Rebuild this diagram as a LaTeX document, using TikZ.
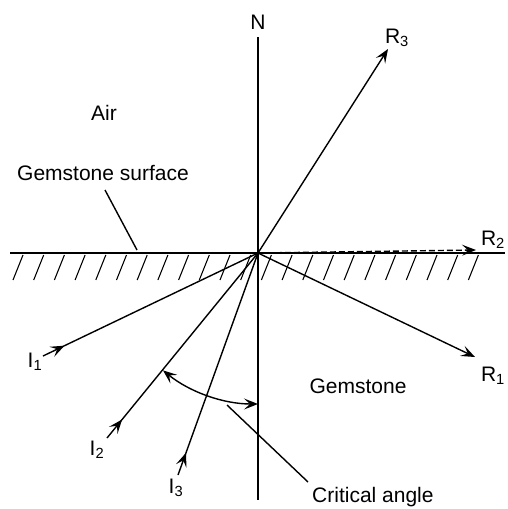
\documentclass[tikz,border=0pt]{standalone}
\usepackage{fontspec}
\setmainfont{Liberation Sans}
\usetikzlibrary{arrows.meta, decorations.markings, calc}

\begin{document}
\begin{tikzpicture}[
  x=1pt, y=-1pt,
  label/.style={font=\fontsize{21}{24}\selectfont, inner sep=0pt},
  ray/.style={line width=1.4pt},
  tip/.tip={Stealth[length=14pt, width=11pt, inset=6pt]},
  arrow/.style={ray, -tip},
  midarrow/.style={ray, decoration={markings, mark=at position 0.1 with {\arrow{tip}}}, postaction={decorate}},
  hatch/.style={line width=1.1pt}
]
  \useasboundingbox (0,0) rectangle (507,509);

  % points of the rays
  \coordinate (O) at (258,253);
  \coordinate (ntop) at (258,37);
  \coordinate (nbot) at (258,500);
  \coordinate (sleft) at (10,253);
  \coordinate (sright) at (505,253);
  \coordinate (r3) at (388,49);
  \coordinate (r2) at (476,250);
  \coordinate (r1) at (475,357);
  \coordinate (i1) at (43,356);
  \coordinate (i2) at (107,438);
  \coordinate (i3) at (178,475);

  % labels
  \node[label] (nlab) at (258,22) {N};
  \node[label] (r3lab) at (397,38) {R\textsubscript{3}};
  \node[label] (r2lab) at (493,240) {R\textsubscript{2}};
  \node[label] (r1lab) at (493,376) {R\textsubscript{1}};
  \node[label] (i1lab) at (35,362) {I\textsubscript{1}};
  \node[label] (i2lab) at (97,450) {I\textsubscript{2}};
  \node[label] (i3lab) at (176,488) {I\textsubscript{3}};
  \node[label] (air) at (104,113) {Air};
  \node[label] (surf) at (103,173) {Gemstone surface};
  \node[label] (gem) at (358,386) {Gemstone};
  \node[label, anchor=west] (crit) at (312,497) {Critical angle};

  % normal and surface
  \draw[ray] (ntop) -- (nbot);
  \draw[ray] (sleft) -- (sright);
  \foreach \k in {0,...,22}
    \draw[hatch] (23+20.7*\k,255) -- ++(-10,25);

  % rays
  \draw[midarrow] (i1) -- (O);
  \draw[midarrow] (i2) -- (O);
  \draw[midarrow] (i3) -- (O);
  \draw[arrow] (O) -- (r3);
  \draw[arrow] (O) -- (r1);
  \draw[arrow, dash pattern=on 6pt off 3pt] (O) -- (r2);

  % pointers
  \coordinate (surfpt) at (137,250);
  \draw[ray] (105,190) -- (surfpt);
  \coordinate (critpt) at (227,405);
  \draw[ray] (critpt) -- (308,482);

  % critical angle
  \draw[ray, tip-tip] ($(O)+(129:151)$) arc (129:90:151);
\end{tikzpicture}
\end{document}
